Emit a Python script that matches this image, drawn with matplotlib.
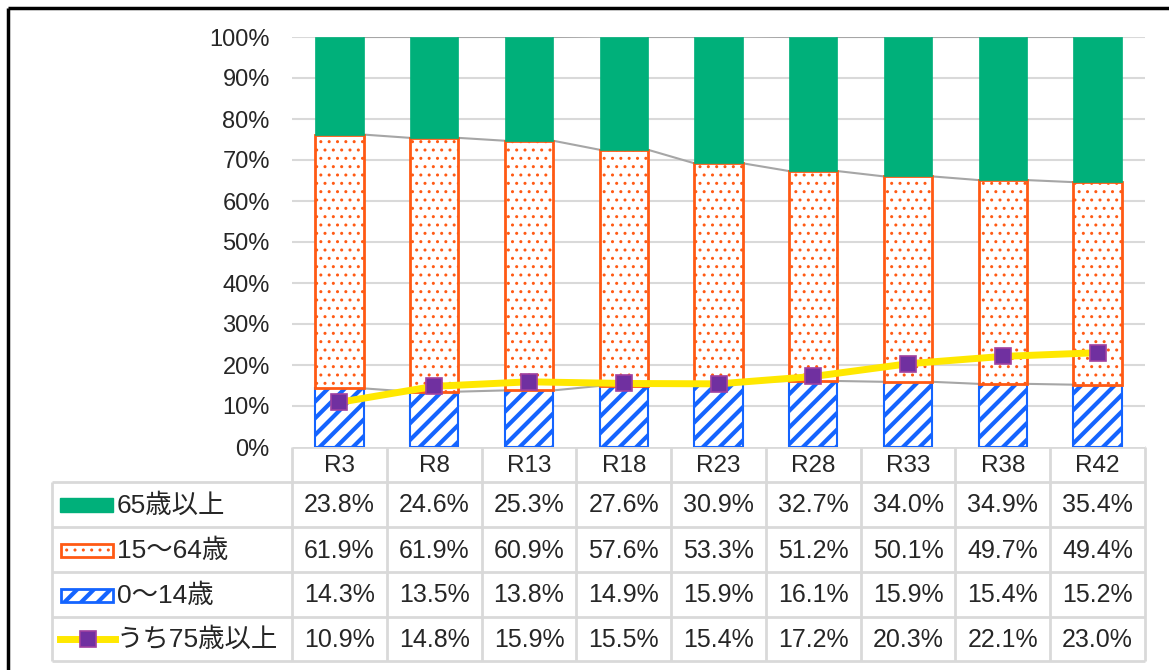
import matplotlib
matplotlib.use("Agg")
import matplotlib.pyplot as plt
from matplotlib import font_manager
from matplotlib.patches import Rectangle
from matplotlib.lines import Line2D
import numpy as np

categories = ["R3", "R8", "R13", "R18", "R23", "R28", "R33", "R38", "R42"]
age65_plus = [23.8, 24.6, 25.3, 27.6, 30.9, 32.7, 34.0, 34.9, 35.4]
age15_64 = [61.9, 61.9, 60.9, 57.6, 53.3, 51.2, 50.1, 49.7, 49.4]
age0_14 = [14.3, 13.5, 13.8, 14.9, 15.9, 16.1, 15.9, 15.4, 15.2]
age75_plus = [10.9, 14.8, 15.9, 15.5, 15.4, 17.2, 20.3, 22.1, 23.0]
series_names = ["65歳以上", "15～64歳", "0～14歳", "うち75歳以上"]
yticks = list(range(0, 101, 10))

avail = {f.name for f in font_manager.fontManager.ttflist}
latin = "Liberation Sans Narrow" if "Liberation Sans Narrow" in avail else "Liberation Sans"
FAM = [latin, "Noto Sans CJK JP", "DejaVu Sans"]
plt.rcParams["font.family"] = FAM

GREEN = "#00B07A"
ORANGE = "#FF5A14"
BLUE = "#1464FF"
YELLOW = "#FFE800"
PURPLE = "#7030A0"
GRID = "#D9D9D9"
SER = "#A6A6A6"
TXT = "#262626"

W, H = 1169, 670
fig = plt.figure(figsize=(W / 100, H / 100), dpi=100)

L, R, T, B = 292, 1145, 37, 447
ax = fig.add_axes([L / W, 1 - B / H, (R - L) / W, (B - T) / H])
x = np.arange(len(categories))
bw = 0.51

ax.set_xlim(-0.5, len(categories) - 0.5)
ax.set_ylim(0, 100)
for s in ax.spines.values():
    s.set_visible(False)
ax.set_yticks(yticks)
ax.set_yticklabels([f"{v}%" for v in yticks], fontsize=17, color=TXT)
ax.tick_params(axis="y", length=0, pad=16)
ax.set_xticks([])
for v in yticks[1:]:
    ax.axhline(v, color=GRID, lw=1.5, zorder=0)

plt.rcParams["hatch.linewidth"] = 3.0
ax.bar(x, age0_14, bw, facecolor="white", edgecolor=BLUE, hatch="//", lw=1.5, zorder=2)
plt.rcParams["hatch.linewidth"] = 1.0
ax.bar(x, age15_64, bw, bottom=age0_14, facecolor="white", edgecolor=ORANGE, hatch="..", lw=2, zorder=2)
bottom65 = [a + b for a, b in zip(age0_14, age15_64)]
ax.bar(x, age65_plus, bw, bottom=bottom65, facecolor=GREEN, edgecolor=GREEN, lw=0.5, zorder=3)

# series lines
tops = [age0_14, bottom65, [a + b for a, b in zip(bottom65, age65_plus)]]
for lvl in tops:
    for i in range(len(categories) - 1):
        ax.plot([x[i] + bw / 2, x[i + 1] - bw / 2], [lvl[i], lvl[i + 1]], color=SER, lw=1.5, zorder=1)

ax.plot(x, age75_plus, color=YELLOW, lw=5, marker="s", markersize=11,
        markerfacecolor=PURPLE, markeredgecolor="#A040A0", markeredgewidth=1.2, zorder=5)

# table overlay
tab = fig.add_axes([0, 0, 1, 1], zorder=-1)
tab.set_xlim(0, W)
tab.set_ylim(H, 0)
tab.axis("off")

n = len(categories)
colw = (R - L) / n
rows_y = [447, 482, 527, 572, 617, 661]
LEG = 52
lc = dict(color=GRID, lw=2, solid_capstyle="butt")
tab.plot([L, R], [rows_y[0]] * 2, **lc)
for yy in rows_y[1:]:
    tab.plot([LEG, R], [yy, yy], **lc)
for i in range(n + 1):
    xx = L + i * colw
    tab.plot([xx, xx], [rows_y[0], rows_y[-1]], **lc)
tab.plot([LEG, LEG], [rows_y[1], rows_y[-1]], **lc)

for i, c in enumerate(categories):
    tab.text(L + (i + 0.5) * colw, (rows_y[0] + rows_y[1]) / 2 + 1, c, ha="center", va="center",
             fontsize=17.5, color=TXT)

table_vals = [age65_plus, age15_64, age0_14, age75_plus]
for r, vals in enumerate(table_vals):
    yc = (rows_y[r + 1] + rows_y[r + 2]) / 2 + 1
    for i, v in enumerate(vals):
        tab.text(L + (i + 0.5) * colw, yc, f"{v:.1f}%", ha="center", va="center",
                 fontsize=18, color=TXT)
    tab.text(117, yc, series_names[r], ha="left", va="center", fontsize=19, color=TXT)

# legend keys
def yc_of(r):
    return (rows_y[r + 1] + rows_y[r + 2]) / 2

tab.add_patch(Rectangle((60, yc_of(0) - 7), 53, 14, facecolor=GREEN, edgecolor=GREEN))
plt.rcParams["hatch.linewidth"] = 1.0
tab.add_patch(Rectangle((61, yc_of(1) - 6), 52, 13, facecolor="white", edgecolor=ORANGE, hatch="..", lw=2))
plt.rcParams["hatch.linewidth"] = 3.0
tab.add_patch(Rectangle((61, yc_of(2) - 6), 52, 13, facecolor="white", edgecolor=BLUE, hatch="//", lw=2))
tab.add_line(Line2D([60, 115], [yc_of(3), yc_of(3)], color=YELLOW, lw=5))
tab.add_line(Line2D([87.5], [yc_of(3)], marker="s", markersize=11, markerfacecolor=PURPLE,
                    markeredgecolor="#A040A0", markeredgewidth=1.2))

# outer frame (top and left)
tab.plot([8, W], [8, 8], color="black", lw=2.5, solid_capstyle="butt")
tab.plot([8, 8], [8, H], color="black", lw=2.5, solid_capstyle="butt")

fig.savefig("out.png", dpi=100)
